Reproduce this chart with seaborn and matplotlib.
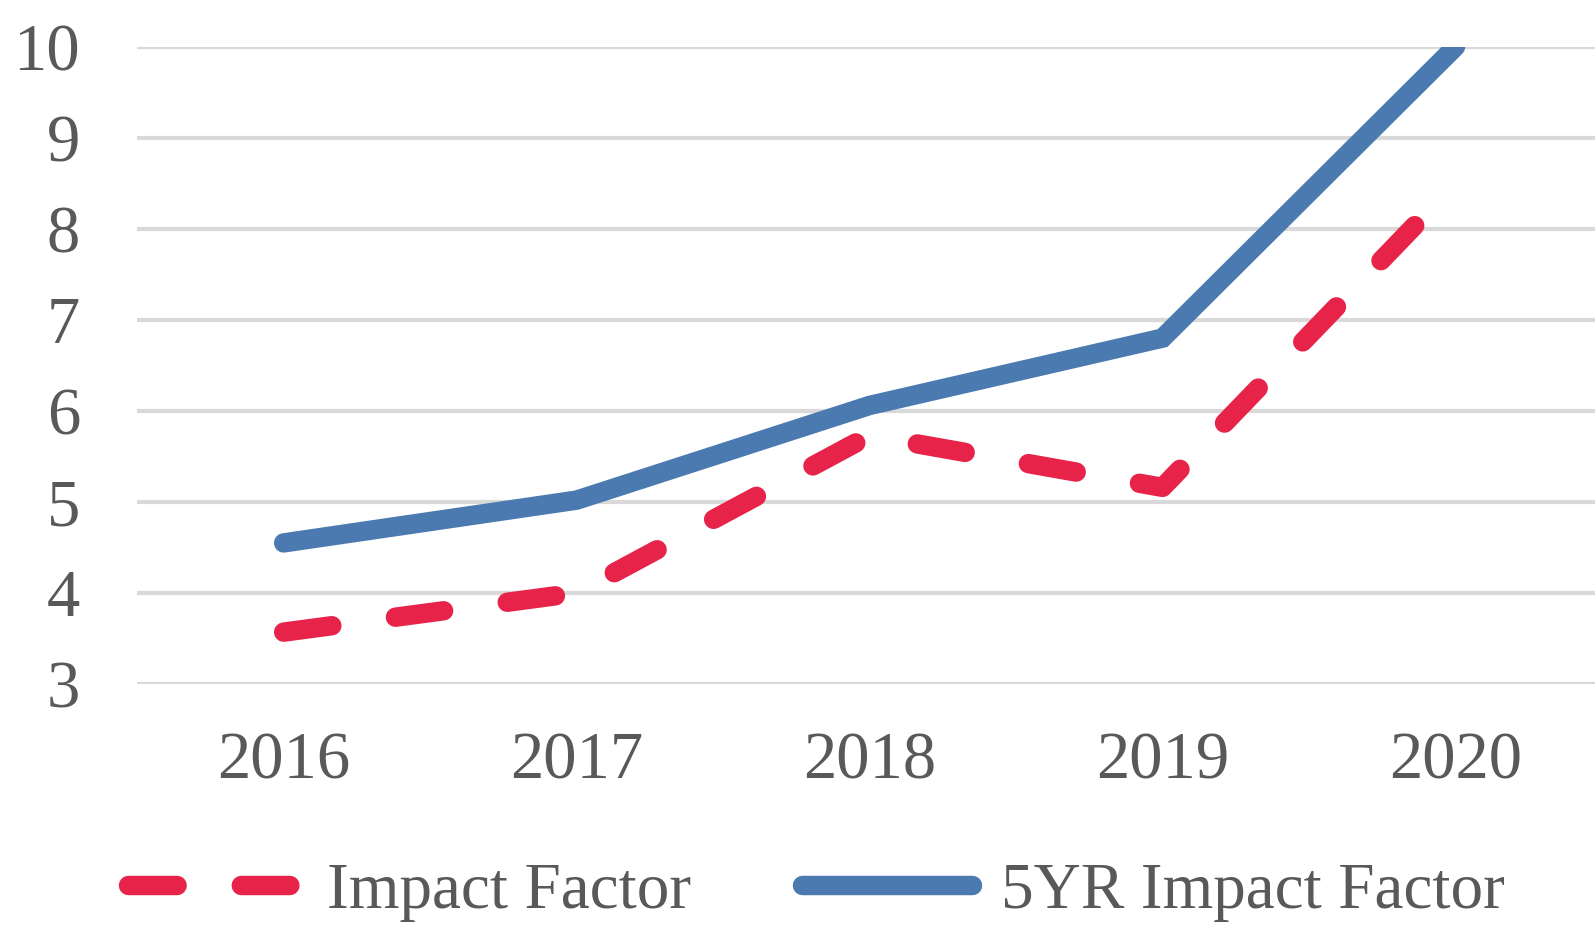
import seaborn as sns
import matplotlib.pyplot as plt
import pandas as pd

years = [2016, 2017, 2018, 2019, 2020]
impact_factor = [3.57, 4.0, 5.73, 5.16, 8.5]
five_yr_impact = [4.55, 5.02, 6.06, 6.8, 10.0]
y_ticks = [3, 4, 5, 6, 7, 8, 9, 10]

red = "#E8234A"
blue = "#4A7AB0"
text_col = "#595959"

sns.set_style("white")
plt.rcParams["font.family"] = ["Liberation Serif", "DejaVu Serif"]

df_if = pd.DataFrame({"year": years, "value": impact_factor})
df_5 = pd.DataFrame({"year": years, "value": five_yr_impact})

fig = plt.figure(figsize=(15.95, 9.25), dpi=100)
ax = fig.add_axes([0.086, 0.2605, 0.914, 0.689])

lw = 14
sns.lineplot(data=df_if, x="year", y="value", ax=ax, color=red, lw=lw,
             label="Impact Factor", dashes=False)
sns.lineplot(data=df_5, x="year", y="value", ax=ax, color=blue, lw=lw,
             label="5YR Impact Factor", dashes=False)

line_if, line_5 = ax.get_lines()[:2]
line_if.set_linestyle((0, (2.5, 3.3)))
line_if.set_dash_capstyle("round")
line_5.set_solid_capstyle("round")
line_5.set_solid_joinstyle("miter")

ax.set_xlim(2015.5, 2020.476)
ax.set_ylim(3, 10)
ax.set_yticks(y_ticks)
ax.set_xticks(years)
ax.set_xticklabels([str(y) for y in years])
ax.grid(axis="y", color="#D9D9D9", lw=3)
ax.set_axisbelow(True)
for s in ax.spines.values():
    s.set_visible(False)
ax.tick_params(axis="x", length=0, pad=34, labelsize=48, labelcolor=text_col)
ax.tick_params(axis="y", length=0, pad=41, labelsize=48, labelcolor=text_col)
ax.set_xlabel("")
ax.set_ylabel("")

handles, labels = ax.get_legend_handles_labels()
ax.get_legend().remove()
leg = fig.legend(handles, labels, loc="center", bbox_to_anchor=(0.512, 0.036),
                 ncol=2, frameon=False, fontsize=47, handlelength=2.6,
                 handletextpad=0.45, columnspacing=1.7, borderaxespad=0)
for t in leg.get_texts():
    t.set_color(text_col)
for h in leg.legend_handles:
    h.set_linewidth(lw)

fig.savefig("out.png", dpi=100)
